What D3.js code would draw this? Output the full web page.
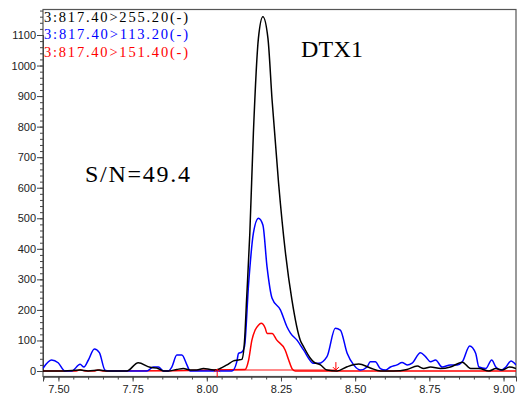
<!DOCTYPE html>
<html><head><meta charset="utf-8">
<script src="https://cdn.jsdelivr.net/npm/d3@7"></script>
<style>body{margin:0;background:#fff}svg{display:block}</style>
</head><body>
<script>
// ---- data ----
const legendLabels = ["3:817.40>255.20(-)", "3:817.40>113.20(-)", "3:817.40>151.40(-)"];
const seriesColors = ["#000000", "#0000ff", "#ff0000"];
const xTickValues = [7.50, 7.75, 8.00, 8.25, 8.50, 8.75, 9.00];
const yTickValues = [0,100,200,300,400,500,600,700,800,900,1000,1100];

const blackT = [7.448,7.52,7.573,7.60,7.638,7.66,7.73,7.769,7.809,7.831,7.854,7.870,7.899,7.921,7.944,7.966,7.989,8.011,8.028,8.045,8.068,8.090,8.107,8.118,8.127,8.134,8.145,8.157,8.174,8.189,8.206,8.220,8.242,8.264,8.287,8.315,8.326,8.349,8.360,8.383,8.405,8.439,8.473,8.512,8.551,8.585,8.629,8.675,8.709,8.731,8.754,8.788,8.821,8.861,8.889,8.917,8.951,8.974,8.995,9.020,9.042];
const blackV = [0,0,3,0,3,0,0,27,12,10,0,0,5,8,3,3,8,5,3,8,20,33,36,38,96,232,451,779,1090,1160,1090,887,614,396,232,101,80,42,30,20,3,0,14,23,10,0,0,5,16,8,13,8,13,29,8,8,0,8,3,13,8];

const blueT = [7.448,7.477,7.499,7.522,7.545,7.573,7.586,7.601,7.621,7.638,7.657,7.674,7.798,7.820,7.837,7.854,7.870,7.882,7.899,7.916,7.933,7.944,8.085,8.101,8.107,8.118,8.127,8.141,8.157,8.174,8.189,8.203,8.220,8.248,8.270,8.282,8.304,8.326,8.360,8.377,8.405,8.433,8.450,8.473,8.495,8.518,8.540,8.551,8.568,8.585,8.602,8.619,8.641,8.658,8.675,8.692,8.720,8.737,8.754,8.771,8.793,8.821,8.844,8.861,8.886,8.906,8.917,8.940,8.960,8.974,8.991,9.008,9.025,9.042];
const blueV = [9,36,27,0,0,22,13,36,72,60,3,0,0,13,13,0,0,13,52,52,20,0,0,30,58,62,80,287,451,500,478,341,238,200,145,124,101,69,25,25,47,140,134,58,20,3,13,30,30,8,3,13,20,28,20,26,60,47,30,36,13,20,20,30,82,58,13,8,36,13,3,13,33,20];

const redT = [7.448,7.56,7.573,7.59,7.62,7.633,7.65,8.129,8.141,8.152,8.163,8.174,8.183,8.197,8.203,8.220,8.236,8.264,8.276,8.287,8.298,9.042];
const redV = [0,0,4,0,0,3,0,5,36,101,134,150,156,140,123,123,101,69,36,8,0,0];

const baselineT = [8.035, 8.435];
const baselineV = [3, 3];

const annotationPeak = "DTX1";
const annotationSN = "S/N=49.4";

// ---- chart ----
const W = 518, H = 394;
const L = 43, R = 516, T = 9.5, B = 376.5;
const svg = d3.select("body").append("svg").attr("width", W).attr("height", H);

const x = d3.scaleLinear().domain([7.448, 9.042]).range([L, R]);
const y = d3.scaleLinear().domain([0, 1100]).range([371, 35]);

svg.append("defs").append("clipPath").attr("id","clip")
  .append("rect").attr("x", L).attr("y", T).attr("width", R-L).attr("height", B-T);

// frame
svg.append("rect").attr("x", L).attr("y", T).attr("width", R-L).attr("height", B-T)
  .attr("fill","none").attr("stroke","#555").attr("stroke-width",1.2);

// axes
const axisFont = "'Liberation Sans', Arial, sans-serif";
const xMinor = d3.range(7.45, 9.041, 0.05);
const gxMinor = svg.append("g").attr("transform", `translate(0,${B})`)
  .call(d3.axisBottom(x).tickValues(xMinor).tickSize(3).tickFormat(""));
const gx = svg.append("g").attr("transform", `translate(0,${B})`)
  .call(d3.axisBottom(x).tickValues(xTickValues).tickSize(5).tickFormat(d3.format(".2f")).tickPadding(4));
const yMinor = d3.range(0, 1181, 20);
const gyMinor = svg.append("g").attr("transform", `translate(${L},0)`)
  .call(d3.axisLeft(y).tickValues(yMinor).tickSize(3).tickFormat(""));
const gy = svg.append("g").attr("transform", `translate(${L},0)`)
  .call(d3.axisLeft(y).tickValues(yTickValues).tickSize(6).tickFormat(d3.format("d")).tickPadding(1));
[gxMinor, gx, gyMinor, gy].forEach(g => {
  g.select(".domain").attr("stroke","#444");
  g.selectAll(".tick line").attr("stroke","#444");
  g.selectAll("text").attr("font-family", axisFont).attr("font-size", 11).attr("fill","#222");
});

// lines
const line = d3.line().x(d => x(d[0])).y(d => y(d[1])).curve(d3.curveMonotoneX);
const plot = svg.append("g").attr("clip-path","url(#clip)");
const series = [
  {t: redT, v: redV, c: seriesColors[2]},
  {t: blueT, v: blueV, c: seriesColors[1]},
  {t: blackT, v: blackV, c: seriesColors[0]}
];
// baseline for integration
plot.append("path").datum(baselineT.map((t,i)=>[t, baselineV[i]]))
  .attr("d", d3.line().x(d=>x(d[0])).y(d=>y(d[1])))
  .attr("stroke", "#ff6060").attr("stroke-width", 1.5).attr("fill","none");
series.forEach(s => {
  plot.append("path").datum(s.t.map((t,i)=>[t, s.v[i]]))
    .attr("d", line).attr("fill","none").attr("stroke", s.c).attr("stroke-width", 1.5);
});
// baseline markers (arrows)
const ax0 = x(baselineT[0]), ax1 = x(baselineT[1]);
const y0 = y(baselineV[0]);
svg.append("path").attr("d", `M${ax0},${y0+7}L${ax0},${y0-1}M${ax0-3},${y0+2}L${ax0},${y0-1}L${ax0+3},${y0+2}`)
  .attr("stroke","#ff0000").attr("fill","none").attr("stroke-width",1);
svg.append("path").attr("d", `M${ax1},${y0-8}L${ax1},${y0}M${ax1-3},${y0-3}L${ax1},${y0}L${ax1+3},${y0-3}`)
  .attr("stroke","#ff0000").attr("fill","none").attr("stroke-width",1);

// legend text
legendLabels.forEach((lab, i) => {
  svg.append("text").attr("x", 44).attr("y", 21.5 + i*17.5)
    .attr("font-family","'Liberation Serif', 'Times New Roman', serif").attr("font-size", 14.5)
    .attr("textLength", 144).attr("lengthAdjust","spacing")
    .attr("fill", seriesColors[i]).text(lab);
});

// annotations
svg.append("text").attr("x", 301).attr("y", 57).attr("font-family","'Liberation Serif', serif")
  .attr("font-size", 24).attr("textLength", 62).attr("lengthAdjust","spacing")
  .attr("fill","#000").text(annotationPeak);
svg.append("text").attr("x", 85).attr("y", 182).attr("font-family","'Liberation Serif', serif")
  .attr("font-size", 24).attr("textLength", 105).attr("lengthAdjust","spacing")
  .attr("fill","#000").text(annotationSN);
</script>
</body></html>
